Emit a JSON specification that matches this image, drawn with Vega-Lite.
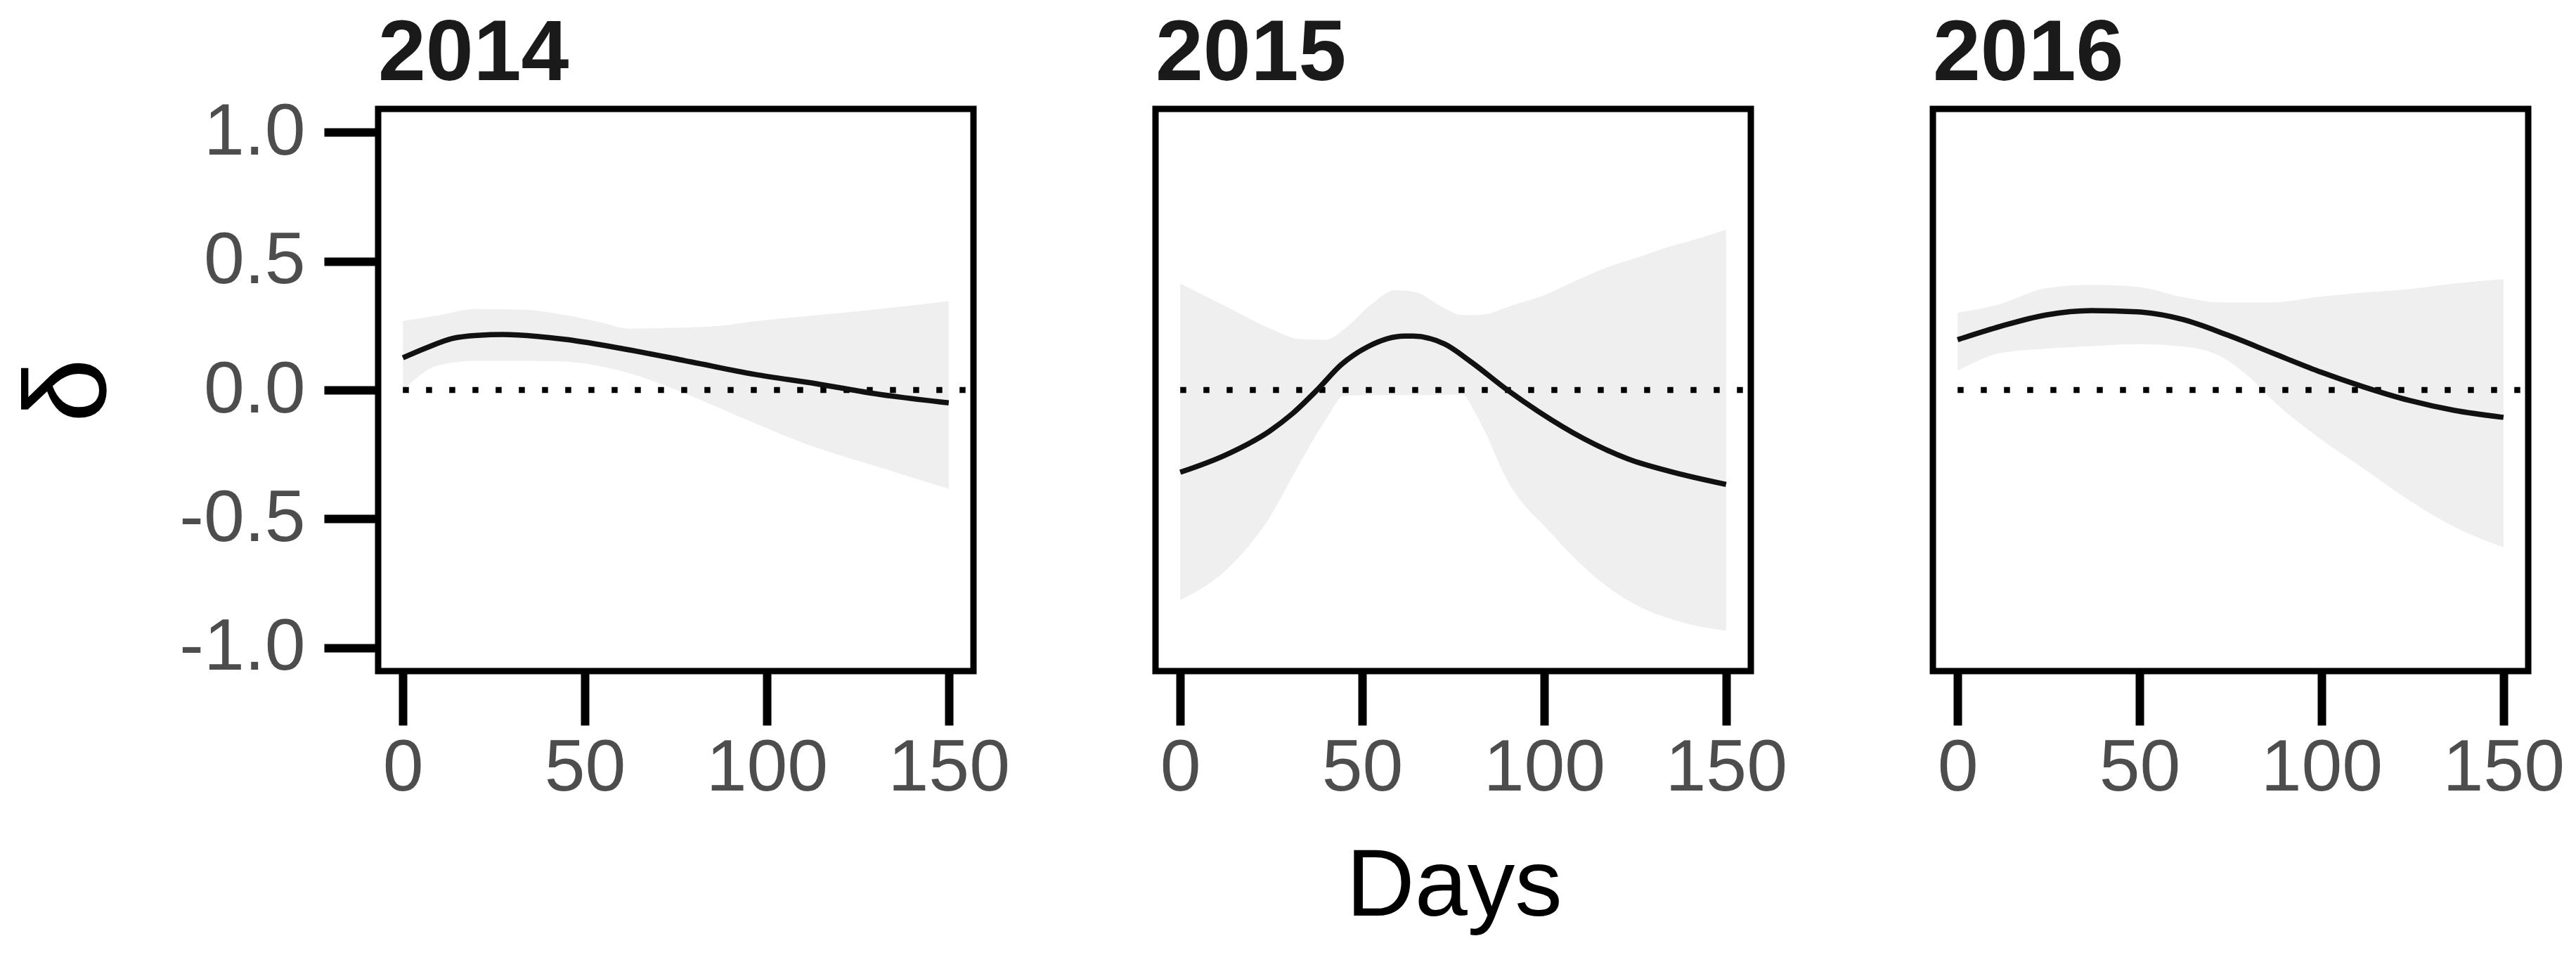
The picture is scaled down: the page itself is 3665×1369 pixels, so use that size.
{
  "$schema": "https://vega.github.io/schema/vega-lite/v6.json",
  "background": "white",
  "padding": {"left": 17, "top": 16, "right": 5, "bottom": 5},
  "bounds": "flush",
  "config": {
    "font": "Liberation Sans",
    "view": {"stroke": "#000000", "strokeWidth": 9},
    "axis": {
      "domain": false,
      "grid": false,
      "ticks": true,
      "tickColor": "#000000",
      "tickWidth": 12,
      "tickSize": 77,
      "labelFont": "Liberation Sans",
      "labelFontSize": 104,
      "labelColor": "#4d4d4d",
      "labelLimit": 500
    },
    "header": {
      "labelFont": "Liberation Sans",
      "labelFontSize": 122,
      "labelFontWeight": "bold",
      "labelColor": "#1a1a1a",
      "labelAnchor": "start",
      "labelAlign": "left",
      "labelOrient": "top",
      "labelBaseline": "alphabetic",
      "labelPadding": -81,
      "titleFont": "Liberation Sans",
      "titleFontSize": 135,
      "titleFontWeight": "normal",
      "titleColor": "#000000",
      "titleOrient": "bottom",
      "titleAnchor": "middle",
      "titlePadding": 41
    }
  },
  "data": {
    "values": [
      {"year": "2014", "kind": "ref", "ref": 0},
      {"year": "2014", "kind": "line", "day": 0, "est": 0.125},
      {"year": "2014", "kind": "line", "day": 6.7, "est": 0.165},
      {"year": "2014", "kind": "line", "day": 13.6, "est": 0.2},
      {"year": "2014", "kind": "line", "day": 20.6, "est": 0.212},
      {"year": "2014", "kind": "line", "day": 27.4, "est": 0.215},
      {"year": "2014", "kind": "line", "day": 44.7, "est": 0.196},
      {"year": "2014", "kind": "line", "day": 62, "est": 0.156},
      {"year": "2014", "kind": "line", "day": 79.2, "est": 0.109},
      {"year": "2014", "kind": "line", "day": 96.5, "est": 0.061},
      {"year": "2014", "kind": "line", "day": 113.8, "est": 0.024},
      {"year": "2014", "kind": "line", "day": 131, "est": -0.017},
      {"year": "2014", "kind": "line", "day": 150, "est": -0.05},
      {"year": "2014", "kind": "band", "day": 0, "hi": 0.267, "lo": 0.0},
      {"year": "2014", "kind": "band", "day": 10, "hi": 0.29, "lo": 0.097},
      {"year": "2014", "kind": "band", "day": 20, "hi": 0.314, "lo": 0.113},
      {"year": "2014", "kind": "band", "day": 32, "hi": 0.312, "lo": 0.113},
      {"year": "2014", "kind": "band", "day": 45, "hi": 0.29, "lo": 0.11},
      {"year": "2014", "kind": "band", "day": 55, "hi": 0.26, "lo": 0.09},
      {"year": "2014", "kind": "band", "day": 62, "hi": 0.238, "lo": 0.066},
      {"year": "2014", "kind": "band", "day": 76, "hi": 0.242, "lo": -0.005},
      {"year": "2014", "kind": "band", "day": 88, "hi": 0.25, "lo": -0.076},
      {"year": "2014", "kind": "band", "day": 97, "hi": 0.267, "lo": -0.13},
      {"year": "2014", "kind": "band", "day": 110, "hi": 0.285, "lo": -0.205},
      {"year": "2014", "kind": "band", "day": 131, "hi": 0.314, "lo": -0.3},
      {"year": "2014", "kind": "band", "day": 150, "hi": 0.345, "lo": -0.383},

      {"year": "2015", "kind": "ref", "ref": 0},
      {"year": "2015", "kind": "line", "day": 0, "est": -0.319},
      {"year": "2015", "kind": "line", "day": 12.3, "est": -0.253},
      {"year": "2015", "kind": "line", "day": 24.6, "est": -0.159},
      {"year": "2015", "kind": "line", "day": 30.8, "est": -0.092},
      {"year": "2015", "kind": "line", "day": 37.6, "est": 0.0},
      {"year": "2015", "kind": "line", "day": 44.3, "est": 0.099},
      {"year": "2015", "kind": "line", "day": 51.7, "est": 0.169},
      {"year": "2015", "kind": "line", "day": 61.6, "est": 0.209},
      {"year": "2015", "kind": "line", "day": 64, "est": 0.209},
      {"year": "2015", "kind": "line", "day": 72.7, "est": 0.178},
      {"year": "2015", "kind": "line", "day": 80, "est": 0.108},
      {"year": "2015", "kind": "line", "day": 89.9, "est": 0.0},
      {"year": "2015", "kind": "line", "day": 98.5, "est": -0.084},
      {"year": "2015", "kind": "line", "day": 110.8, "est": -0.188},
      {"year": "2015", "kind": "line", "day": 123, "est": -0.267},
      {"year": "2015", "kind": "line", "day": 135.5, "est": -0.319},
      {"year": "2015", "kind": "line", "day": 150, "est": -0.366},
      {"year": "2015", "kind": "band", "day": 0, "hi": 0.413, "lo": -0.815},
      {"year": "2015", "kind": "band", "day": 12.3, "hi": 0.326, "lo": -0.702},
      {"year": "2015", "kind": "band", "day": 24.6, "hi": 0.239, "lo": -0.493},
      {"year": "2015", "kind": "band", "day": 33, "hi": 0.197, "lo": -0.28},
      {"year": "2015", "kind": "band", "day": 40, "hi": 0.195, "lo": -0.115},
      {"year": "2015", "kind": "band", "day": 45, "hi": 0.235, "lo": -0.023},
      {"year": "2015", "kind": "band", "day": 52, "hi": 0.326, "lo": -0.02},
      {"year": "2015", "kind": "band", "day": 59, "hi": 0.387, "lo": -0.02},
      {"year": "2015", "kind": "band", "day": 65, "hi": 0.378, "lo": -0.02},
      {"year": "2015", "kind": "band", "day": 71, "hi": 0.33, "lo": -0.02},
      {"year": "2015", "kind": "band", "day": 77.5, "hi": 0.291, "lo": -0.018},
      {"year": "2015", "kind": "band", "day": 81, "hi": 0.29, "lo": -0.087},
      {"year": "2015", "kind": "band", "day": 84.3, "hi": 0.294, "lo": -0.178},
      {"year": "2015", "kind": "band", "day": 87.7, "hi": 0.31, "lo": -0.288},
      {"year": "2015", "kind": "band", "day": 91.1, "hi": 0.328, "lo": -0.38},
      {"year": "2015", "kind": "band", "day": 94.4, "hi": 0.342, "lo": -0.444},
      {"year": "2015", "kind": "band", "day": 100, "hi": 0.368, "lo": -0.526},
      {"year": "2015", "kind": "band", "day": 106.6, "hi": 0.41, "lo": -0.627},
      {"year": "2015", "kind": "band", "day": 113.4, "hi": 0.453, "lo": -0.718},
      {"year": "2015", "kind": "band", "day": 120.2, "hi": 0.49, "lo": -0.791},
      {"year": "2015", "kind": "band", "day": 127, "hi": 0.52, "lo": -0.846},
      {"year": "2015", "kind": "band", "day": 133.7, "hi": 0.553, "lo": -0.883},
      {"year": "2015", "kind": "band", "day": 140.5, "hi": 0.58, "lo": -0.91},
      {"year": "2015", "kind": "band", "day": 150, "hi": 0.622, "lo": -0.933},

      {"year": "2016", "kind": "ref", "ref": 0},
      {"year": "2016", "kind": "line", "day": 0, "est": 0.195},
      {"year": "2016", "kind": "line", "day": 11.8, "est": 0.247},
      {"year": "2016", "kind": "line", "day": 24.3, "est": 0.291},
      {"year": "2016", "kind": "line", "day": 36.8, "est": 0.308},
      {"year": "2016", "kind": "line", "day": 49.3, "est": 0.303},
      {"year": "2016", "kind": "line", "day": 61.7, "est": 0.274},
      {"year": "2016", "kind": "line", "day": 74.2, "est": 0.213},
      {"year": "2016", "kind": "line", "day": 86.6, "est": 0.143},
      {"year": "2016", "kind": "line", "day": 99.1, "est": 0.073},
      {"year": "2016", "kind": "line", "day": 111.6, "est": 0.012},
      {"year": "2016", "kind": "line", "day": 124, "est": -0.04},
      {"year": "2016", "kind": "line", "day": 136.5, "est": -0.079},
      {"year": "2016", "kind": "line", "day": 150, "est": -0.106},
      {"year": "2016", "kind": "band", "day": 0, "hi": 0.3, "lo": 0.075},
      {"year": "2016", "kind": "band", "day": 11.8, "hi": 0.334, "lo": 0.143},
      {"year": "2016", "kind": "band", "day": 24.3, "hi": 0.395, "lo": 0.16},
      {"year": "2016", "kind": "band", "day": 36.8, "hi": 0.408, "lo": 0.17},
      {"year": "2016", "kind": "band", "day": 49.3, "hi": 0.4, "lo": 0.178},
      {"year": "2016", "kind": "band", "day": 61.7, "hi": 0.361, "lo": 0.169},
      {"year": "2016", "kind": "band", "day": 71.7, "hi": 0.34, "lo": 0.134},
      {"year": "2016", "kind": "band", "day": 80.4, "hi": 0.34, "lo": 0.047},
      {"year": "2016", "kind": "band", "day": 86.6, "hi": 0.34, "lo": -0.04},
      {"year": "2016", "kind": "band", "day": 99.1, "hi": 0.361, "lo": -0.183},
      {"year": "2016", "kind": "band", "day": 111.6, "hi": 0.378, "lo": -0.305},
      {"year": "2016", "kind": "band", "day": 124, "hi": 0.392, "lo": -0.427},
      {"year": "2016", "kind": "band", "day": 136.5, "hi": 0.413, "lo": -0.531},
      {"year": "2016", "kind": "band", "day": 150, "hi": 0.43, "lo": -0.61}
    ]
  },
  "facet": {
    "column": {"field": "year", "type": "ordinal", "title": "Days"}
  },
  "spacing": 259,
  "spec": {
    "width": 847,
    "height": 800,
    "layer": [
      {
        "transform": [{"filter": "datum.kind == 'band'"}],
        "mark": {"type": "area", "color": "#efefef", "interpolate": "monotone"},
        "encoding": {
          "x": {
            "field": "day", "type": "quantitative", "title": null,
            "scale": {"domain": [-6.8, 156.8], "nice": false, "zero": false},
            "axis": {"values": [0, 50, 100, 150], "labelPadding": 10}
          },
          "y": {
            "field": "hi", "type": "quantitative", "title": "δ",
            "scale": {"domain": [-1.09, 1.09], "nice": false},
            "axis": {
              "values": [-1, -0.5, 0, 0.5, 1], "format": ".1f",
              "labelExpr": "replace(datum.label, '−', '-')",
              "labelPadding": 27,
              "titleFontSize": 165, "titleFontWeight": "normal", "titleColor": "#000000",
              "titlePadding": 154
            }
          },
          "y2": {"field": "lo"}
        }
      },
      {
        "transform": [{"filter": "datum.kind == 'ref'"}],
        "mark": {"type": "rule", "color": "#000000", "strokeWidth": 8.5, "strokeDash": [8.5, 24.5]},
        "encoding": {
          "y": {"field": "ref", "type": "quantitative", "title": "δ"},
          "x": {"datum": 0},
          "x2": {"datum": 156.5}
        }
      },
      {
        "transform": [{"filter": "datum.kind == 'line'"}],
        "mark": {"type": "line", "color": "#111111", "strokeWidth": 7.5, "interpolate": "monotone"},
        "encoding": {
          "x": {"field": "day", "type": "quantitative", "title": null},
          "y": {"field": "est", "type": "quantitative", "title": "δ"}
        }
      }
    ]
  }
}
